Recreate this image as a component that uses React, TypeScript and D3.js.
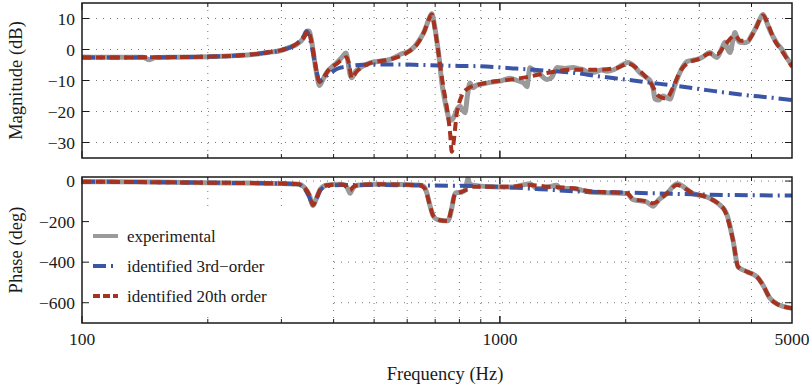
import React from "react";
import * as d3 from "d3";

// ---------- data (frequency in Hz, value) ----------
const magExperimental: [number, number][] = [
  [100, -2.4], [115, -2.5], [130, -2.5], [140, -2.5], [145, -3.3], [150, -2.6], [170, -2.5], [200, -2.3],
  [230, -2.0], [260, -1.5], [280, -0.9], [298, -0.4], [315, 0.8], [326, 1.6], [338, 3.5], [345, 5.9],
  [349, 6.0], [354, 3.0], [360, -3.5], [364, -7.5], [370, -11.6], [376, -10], [385, -7.5], [395, -5.8],
  [407, -4.3], [420, -2.3], [428, -1.1], [433, -4], [438, -8.1], [442, -9.1], [452, -7], [463, -5.9],
  [489, -4.3], [515, -3.8], [546, -3.2], [577, -1.6], [610, -0.3], [630, 1.5], [645, 3.5], [660, 6],
  [675, 9.5], [687, 11.5], [697, 8], [706, 3.2], [716, -3], [726, -10.6], [736, -15.5], [746, -19.4],
  [760, -23], [770, -22.5], [781, -21], [792, -19], [803, -18.3], [814, -19.5], [825, -20.4], [836, -15],
  [848, -10.8], [862, -12.3], [880, -11.5], [896, -11.3], [950, -10.6], [1000, -10.2], [1057, -9.3],
  [1100, -10], [1140, -10.8], [1161, -12], [1172, -8], [1180, -5.9], [1200, -6.5], [1247, -8], [1296, -9.7],
  [1330, -9], [1370, -5.8], [1431, -6.1], [1496, -5.8], [1540, -6.2], [1580, -6.5], [1640, -7.5],
  [1688, -7.3], [1750, -6.6], [1804, -7], [1907, -6.0], [1960, -5.0], [2025, -4.2], [2100, -5.5],
  [2163, -7.5], [2230, -8.8], [2287, -10], [2330, -13], [2350, -16], [2400, -16.3], [2456, -15],
  [2500, -15.5], [2553, -16], [2600, -13], [2653, -9.7], [2730, -6], [2805, -3.9], [2880, -3.5],
  [2963, -3.2], [3050, -2.5], [3183, -1.0], [3250, -2], [3308, -2.6], [3400, 0.5], [3457, 2.3], [3510, 0],
  [3552, -1], [3610, 3], [3652, 5.5], [3700, 3.5], [3758, 2.3], [3850, 2.2], [3925, 2.6], [4000, 4.5],
  [4078, 6.5], [4180, 9.5], [4260, 11.3], [4330, 9.5], [4400, 7], [4503, 4.2], [4600, 2], [4730, 0],
  [4850, -2.5], [5000, -5.2],
];

const mag3rdOrder: [number, number][] = [
  [100, -2.6], [150, -2.5], [200, -2.3], [250, -1.7], [280, -0.9], [298, -0.3], [326, 1.8], [340, 4.5],
  [345, 5.9], [351, 3.5], [357, -1], [364, -7], [370, -10.2], [378, -9.5], [385, -8.5], [396, -7.3],
  [407, -6.3], [430, -5.5], [470, -4.9], [550, -4.8], [650, -5.0], [800, -5.3], [896, -5.4], [1075, -6.1],
  [1340, -7], [1496, -7.5], [1736, -8.7], [2000, -9.7], [2287, -10.7], [2595, -11.6], [3130, -13.1],
  [3758, -14.5], [4503, -15.6], [5000, -16.3],
];

const mag20thOrder: [number, number][] = [
  [100, -2.6], [150, -2.5], [200, -2.3], [250, -1.7], [280, -0.9], [298, -0.3], [326, 1.8], [340, 4],
  [347, 6], [352, 4], [358, -1], [364, -7], [370, -10.5], [378, -9], [390, -6.5], [407, -4.6], [420, -3.2],
  [430, -2.5], [436, -5], [442, -9.3], [452, -7.5], [470, -5.5], [489, -4.4], [546, -3.2], [600, -1],
  [640, 2.5], [660, 6], [675, 9.5], [687, 11.3], [700, 6], [716, -3], [730, -11], [746, -18.5], [760, -27],
  [767, -33], [790, -20], [810, -15], [840, -12.5], [880, -11.5], [950, -10.5], [1050, -9.8], [1150, -9],
  [1250, -8], [1370, -7], [1500, -6.5], [1700, -6.5], [1900, -6], [2025, -4.6], [2163, -7], [2287, -10.5],
  [2400, -15], [2500, -15.8], [2600, -12], [2700, -7], [2805, -4.5], [3000, -3], [3183, -1.3], [3308, -1.5],
  [3457, 1.5], [3652, 4.5], [3760, 2.8], [3925, 3], [4078, 6.3], [4260, 11], [4400, 7.5], [4503, 4],
  [4730, -0.5], [5000, -5.5],
];

const phaseExperimental: [number, number][] = [
  [100, -3], [150, -5], [200, -8], [250, -10], [298, -12], [330, -16], [340, -30], [350, -70], [357, -120],
  [364, -85], [372, -40], [385, -21], [410, -16], [425, -18], [433, -40], [438, -60], [445, -35], [455, -21],
  [500, -16], [580, -17], [640, -20], [655, -25], [669, -60], [680, -120], [692, -170], [705, -188],
  [719, -193], [751, -196], [760, -170], [768, -128], [781, -60], [800, -56], [812, -54], [825, -46],
  [833, -10], [839, 13], [845, -10], [862, -21], [900, -25], [984, -29], [1075, -29], [1130, -20],
  [1180, -13], [1227, -37], [1296, -30], [1370, -21], [1393, -37], [1496, -37], [1643, -54], [1800, -58],
  [2015, -62], [2083, -92], [2242, -103], [2325, -124], [2392, -95], [2510, -62], [2653, -13], [2898, -62],
  [3130, -79], [3363, -119], [3440, -140], [3496, -168], [3612, -291], [3715, -423], [3904, -447],
  [4122, -472], [4260, -513], [4430, -578], [4603, -606], [5000, -627],
];

const phase3rdOrder: [number, number][] = [
  [100, -3], [200, -8], [298, -12], [330, -18], [340, -35], [350, -80], [357, -118], [364, -85], [372, -45],
  [385, -25], [420, -20], [500, -20], [700, -22], [1000, -29], [1250, -40], [1500, -50], [2000, -57],
  [2500, -62], [3000, -66], [4000, -70], [5000, -71],
];

const phase20thOrder: [number, number][] = [
  [100, -3], [200, -8], [298, -12], [330, -16], [340, -30], [350, -70], [357, -118], [364, -85], [372, -40],
  [385, -21], [420, -17], [433, -35], [438, -45], [445, -30], [460, -20], [500, -16], [640, -20], [660, -35],
  [680, -120], [692, -170], [719, -193], [751, -197], [765, -140], [781, -65], [812, -52], [839, -40],
  [862, -28], [984, -28], [1075, -27], [1180, -20], [1300, -28], [1496, -36], [1643, -50], [2015, -60],
  [2083, -88], [2242, -100], [2325, -110], [2510, -60], [2653, -20], [2898, -60], [3130, -80], [3363, -118],
  [3440, -140], [3612, -291], [3715, -423], [3904, -447], [4122, -472], [4260, -513], [4430, -578],
  [4603, -606], [5000, -627],
];

const xGridTicks = [200, 300, 400, 500, 600, 700, 800, 900, 1000, 2000, 3000, 4000];
const xMajorTicks = [100, 1000];
const xLabelTicks = [100, 1000, 5000];
const magTicks = [10, 0, -10, -20, -30];
const phaseTicks = [0, -200, -400, -600];
const legendLabels = ["experimental", "identified 3rd\u2212order", "identified 20th order"];

// ---------- styles ----------
const FONT = '"Liberation Serif"';
const INK = "#1a1a1a";
const C_GRAY = "#9a9a9a";
const C_BLUE = "#3a55a6";
const C_RED = "#a63320";
const DASH_BLUE = "13,5,2,5";
const DASH_RED = "9,5";

const L = 82, R = 792;
const MAG_T = 3, MAG_B = 158;
const PH_T = 177, PH_B = 323;

const fmt = (v: number) => (v < 0 ? "\u2212" + Math.abs(v) : String(v));
const txt = (size: number) => ({ fontFamily: FONT, fontSize: size + "px", fill: INK });

export default function App() {
  const x = d3.scaleLog().domain([100, 5000]).range([L, R]);
  const yMag = d3.scaleLinear().domain([-35, 15]).range([MAG_B, MAG_T]);
  const yPh = d3.scaleLinear().domain([-700, 20]).range([PH_B, PH_T]);

  const lineMag = d3.line<[number, number]>().x((d) => x(d[0])).y((d) => yMag(d[1])).curve(d3.curveMonotoneX);
  const linePh = d3.line<[number, number]>().x((d) => x(d[0])).y((d) => yPh(d[1])).curve(d3.curveMonotoneX);

  const panel = (
    key: string,
    y: d3.ScaleLinear<number, number>,
    top: number,
    bottom: number,
    yTicks: number[],
    line: d3.Line<[number, number]>,
    series: [number, number][][],
    legend: boolean
  ) => (
    <g key={key}>
      <defs>
        <clipPath id={"clip-" + key}>
          <rect x={L} y={top} width={R - L} height={bottom - top} />
        </clipPath>
      </defs>
      <rect x={L} y={top} width={R - L} height={bottom - top} fill="#fff" />
      {xGridTicks.map((t) => (
        <line key={"gx" + t} x1={x(t)} x2={x(t)} y1={top} y2={bottom} stroke="#777" strokeWidth={1} strokeDasharray="1,6" />
      ))}
      {yTicks.map((t) => (
        <line key={"gy" + t} x1={L} x2={R} y1={y(t)} y2={y(t)} stroke="#777" strokeWidth={1} strokeDasharray="1,6" />
      ))}
      {legend && <rect x={84} y={210} width={244} height={107} fill="#fff" />}
      {xGridTicks.concat(xMajorTicks).map((t) => {
        const len = xMajorTicks.includes(t) ? 7 : 4;
        return (
          <g key={"tx" + t}>
            <line x1={x(t)} x2={x(t)} y1={top} y2={top + len} stroke={INK} strokeWidth={1} />
            <line x1={x(t)} x2={x(t)} y1={bottom} y2={bottom - len} stroke={INK} strokeWidth={1} />
          </g>
        );
      })}
      {yTicks.map((t) => (
        <g key={"ty" + t}>
          <line x1={L} x2={L + 7} y1={y(t)} y2={y(t)} stroke={INK} strokeWidth={1} />
          <line x1={R} x2={R - 7} y1={y(t)} y2={y(t)} stroke={INK} strokeWidth={1} />
          <text x={75} y={y(t)} dy="0.35em" textAnchor="end" style={txt(17.5)}>
            {fmt(t)}
          </text>
        </g>
      ))}
      <g clipPath={`url(#clip-${key})`} fill="none">
        <path d={line(series[0]) || ""} stroke={C_GRAY} strokeWidth={5} strokeLinejoin="round" strokeLinecap="round" />
        <path d={line(series[1]) || ""} stroke={C_BLUE} strokeWidth={4} strokeDasharray={DASH_BLUE} />
        <path d={line(series[2]) || ""} stroke={C_RED} strokeWidth={4} strokeDasharray={DASH_RED} />
      </g>
      <rect x={L} y={top} width={R - L} height={bottom - top} fill="none" stroke={INK} strokeWidth={1.5} />
    </g>
  );

  const legendY = [236, 266, 296];
  const legendStyles = [
    { stroke: C_GRAY, dash: undefined as string | undefined, w: 4 },
    { stroke: C_BLUE, dash: DASH_BLUE, w: 4 },
    { stroke: C_RED, dash: "7,3", w: 4 },
  ];

  return (
    <svg width={809} height={387} style={{ position: "absolute", left: 0, top: 0, background: "#fff" }}>
      <rect width={809} height={387} fill="#fff" />
      {panel("mag", yMag, MAG_T, MAG_B, magTicks, lineMag, [magExperimental, mag3rdOrder, mag20thOrder], false)}
      {panel("ph", yPh, PH_T, PH_B, phaseTicks, linePh, [phaseExperimental, phase3rdOrder, phase20thOrder], true)}

      {legendLabels.map((lab, i) => (
        <g key={lab}>
          <line
            x1={93}
            x2={118}
            y1={legendY[i]}
            y2={legendY[i]}
            stroke={legendStyles[i].stroke}
            strokeWidth={legendStyles[i].w}
            strokeDasharray={legendStyles[i].dash}
          />
          <text x={127} y={legendY[i] + 6} style={txt(17)}>
            {lab}
          </text>
        </g>
      ))}

      {xLabelTicks.map((t) => (
        <text key={"xl" + t} x={x(t)} y={345} textAnchor="middle" style={txt(17.5)}>
          {t}
        </text>
      ))}
      <text x={445} y={380} textAnchor="middle" style={txt(18.5)}>
        Frequency (Hz)
      </text>
      <text transform={`translate(22, ${(MAG_T + MAG_B) / 2}) rotate(-90)`} textAnchor="middle" style={txt(18.5)}>
        Magnitude (dB)
      </text>
      <text transform={`translate(22, ${(PH_T + PH_B) / 2}) rotate(-90)`} textAnchor="middle" style={txt(18.5)}>
        Phase (deg)
      </text>
    </svg>
  );
}
